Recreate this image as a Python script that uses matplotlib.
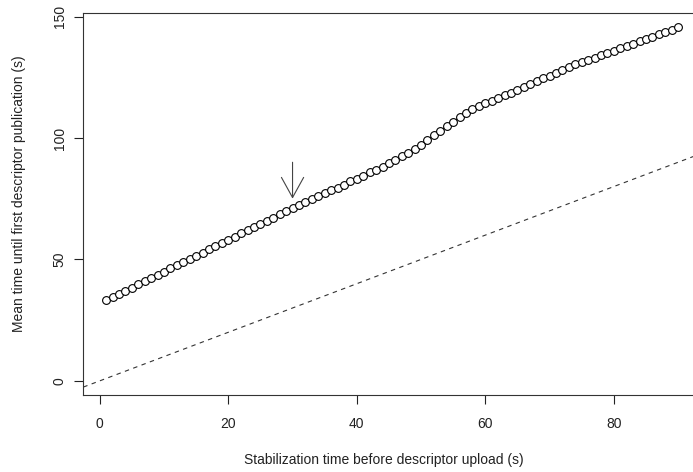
import matplotlib
matplotlib.use("Agg")
import matplotlib.pyplot as plt

stab_time = list(range(1, 91))
mean_time = [
    33.2, 34.5, 35.8, 37.1, 38.4, 39.8, 41.1, 42.4, 43.7, 45.0,
    46.3, 47.6, 48.9, 50.2, 51.5, 52.8, 54.2, 55.5, 56.8, 58.1,
    59.4, 60.7, 62.0, 63.3, 64.6, 65.9, 67.2, 68.6, 69.9, 71.2,
    72.4, 73.6, 74.8, 76.0, 77.2, 78.4, 79.6, 80.8, 82.1, 83.3,
    84.5, 85.8, 87.0, 88.2, 89.5, 91.0, 92.5, 94.0, 95.5, 97.2,
    99.2, 101.2, 103.0, 104.9, 106.7, 108.5, 110.2, 111.8, 113.0, 114.2,
    115.3, 116.4, 117.5, 118.6, 119.8, 121.0, 122.2, 123.3, 124.5, 125.7,
    126.9, 128.1, 129.3, 130.3, 131.2, 132.2, 133.1, 134.1, 135.0, 136.0,
    136.9, 137.9, 138.8, 139.8, 140.7, 141.7, 142.6, 143.6, 144.5, 145.5,
]
x_ticks = [0, 20, 40, 60, 80]
y_ticks = [0, 50, 100, 150]
arrow_x = 30
arrow_top = 90.0
arrow_tip = 75.0

plt.rcParams['font.family'] = ['Liberation Sans', 'DejaVu Sans']

fig = plt.figure(figsize=(6.93, 4.72), dpi=100)
ax = fig.add_axes([83.3 / 693, 1 - 395 / 472, (701 - 83.3) / 693, (395 - 13.3) / 472])

xmin, xmax = min(stab_time), max(stab_time)
xr = (xmax - xmin) * 0.04
ax.set_xlim(xmin - xr, xmax + xr)
ymin, ymax = 0, max(mean_time)
yr = (ymax - ymin) * 0.04
ax.set_ylim(ymin - yr, ymax + yr)

# reference line y = x
ax.axline((0, 0), slope=1, color='#333333', lw=0.8, linestyle=(0, (4, 4)))

ax.plot(stab_time, mean_time, color='black', lw=0.8, marker='o', ms=5.6,
        mfc='white', mec='black', mew=0.8)

ax.annotate('', xy=(arrow_x, arrow_tip), xytext=(arrow_x, arrow_top),
            arrowprops=dict(arrowstyle='->,head_length=1.45,head_width=0.8',
                            lw=0.8, color='#444444', shrinkA=0, shrinkB=0))

ax.set_xticks(x_ticks)
ax.set_yticks(y_ticks)
ax.tick_params(axis='both', direction='out', length=6.5, width=0.8,
               colors='#222222', labelsize=10)
ax.tick_params(axis='x', pad=9.5)
ax.tick_params(axis='y', pad=5.5)
for lab in ax.get_yticklabels():
    lab.set_rotation(90)
    lab.set_va('center')
for s in ax.spines.values():
    s.set_linewidth(0.8)
    s.set_color('#333333')

ax.set_xlabel('Stabilization time before descriptor upload (s)', fontsize=10,
              color='#222222')
ax.set_ylabel('Mean time until first descriptor publication (s)', fontsize=10,
              color='#222222')
ax.xaxis.set_label_coords(0.487, -0.152)
ax.yaxis.set_label_coords(-0.093, 0.527)

fig.savefig('out.png', dpi=100)
